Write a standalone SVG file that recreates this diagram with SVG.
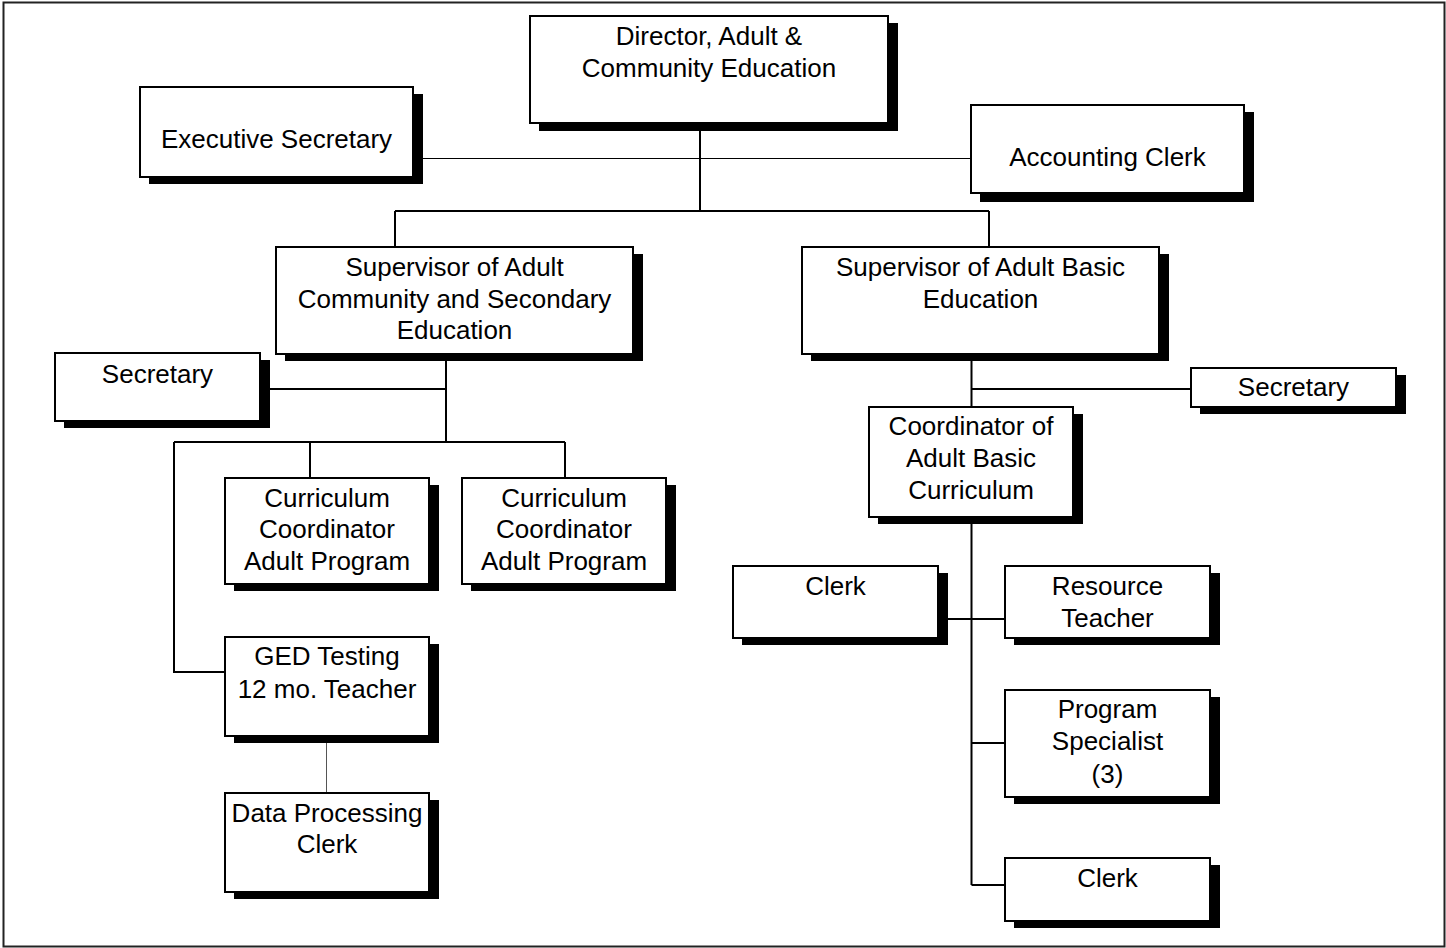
<svg xmlns="http://www.w3.org/2000/svg" width="1446" height="948" viewBox="0 0 1446 948">
  <style>
    .frame { fill: #fff; stroke: #222; stroke-width: 2; }
    .box { fill: #fff; stroke: #000; stroke-width: 2; }
    .shadow { fill: #000; }
    .lbl { font-family: "Liberation Sans", Arial, sans-serif; font-size: 26px; fill: #000; text-anchor: middle; }
    .conn { stroke: #000; stroke-width: 2; fill: none; }
    .thin { stroke: #000; stroke-width: 1; fill: none; }
    .thin-gray { stroke: #555; stroke-width: 1; fill: none; }
  </style>

  <!-- page frame -->
  <rect class="frame" x="3.5" y="2.5" width="1441" height="944"/>

  <!-- connectors -->
  <g id="connectors">
    <line class="thin" x1="420" y1="158.5" x2="971" y2="158.5"/>
    <path class="conn" d="M700 123 V211 M395 211 H989 M395 211 V247 M989 211 V247"/>
    <path class="conn" d="M446 354 V442 M269 389 H446 M174 442 H565 M310 442 V478 M565 442 V478 M174 442 V672 H225"/>
    <line class="thin-gray" x1="326.5" y1="743" x2="326.5" y2="795"/>
    <path class="conn" d="M971.5 354 V407 M971.5 389 H1191 M971.5 517 V885 M937 619 H1005 M971.5 743 H1005 M971.5 885 H1005"/>
  </g>

  <g id="director">
    <rect class="shadow" x="539" y="23" width="359" height="108"/>
    <rect class="box" x="530" y="16" width="358" height="107"/>
    <text class="lbl" x="709" y="45">Director, Adult &amp;</text>
    <text class="lbl" x="709" y="77">Community Education</text>
  </g>

  <g id="executive-secretary">
    <rect class="shadow" x="149" y="94" width="274" height="90"/>
    <rect class="box" x="140" y="87" width="273" height="90"/>
    <text class="lbl" x="276.5" y="148">Executive Secretary</text>
  </g>

  <g id="accounting-clerk">
    <rect class="shadow" x="980" y="112" width="274" height="90"/>
    <rect class="box" x="971" y="105" width="273" height="88"/>
    <text class="lbl" x="1107.5" y="166">Accounting Clerk</text>
  </g>

  <g id="supervisor-community-secondary">
    <rect class="shadow" x="285" y="254" width="358" height="107"/>
    <rect class="box" x="276" y="247" width="357" height="107"/>
    <text class="lbl" x="454.5" y="276">Supervisor of Adult</text>
    <text class="lbl" x="454.5" y="308">Community and Secondary</text>
    <text class="lbl" x="454.5" y="339">Education</text>
  </g>

  <g id="supervisor-basic">
    <rect class="shadow" x="811" y="254" width="358" height="107"/>
    <rect class="box" x="802" y="247" width="357" height="107"/>
    <text class="lbl" x="980.5" y="276">Supervisor of Adult Basic</text>
    <text class="lbl" x="980.5" y="308">Education</text>
  </g>

  <g id="secretary-left">
    <rect class="shadow" x="64" y="360" width="206" height="68"/>
    <rect class="box" x="55" y="353" width="205" height="68"/>
    <text class="lbl" x="157.5" y="383">Secretary</text>
  </g>

  <g id="curriculum-coordinator-1">
    <rect class="shadow" x="234" y="485" width="205" height="106"/>
    <rect class="box" x="225" y="478" width="204" height="106"/>
    <text class="lbl" x="327" y="507">Curriculum</text>
    <text class="lbl" x="327" y="538">Coordinator</text>
    <text class="lbl" x="327" y="570">Adult Program</text>
  </g>

  <g id="curriculum-coordinator-2">
    <rect class="shadow" x="471" y="485" width="205" height="106"/>
    <rect class="box" x="462" y="478" width="204" height="106"/>
    <text class="lbl" x="564" y="507">Curriculum</text>
    <text class="lbl" x="564" y="538">Coordinator</text>
    <text class="lbl" x="564" y="570">Adult Program</text>
  </g>

  <g id="ged-testing">
    <rect class="shadow" x="234" y="644" width="205" height="99"/>
    <rect class="box" x="225" y="637" width="204" height="99"/>
    <text class="lbl" x="327" y="665">GED Testing</text>
    <text class="lbl" x="327" y="698">12 mo. Teacher</text>
  </g>

  <g id="data-processing-clerk">
    <rect class="shadow" x="234" y="800" width="205" height="99"/>
    <rect class="box" x="225" y="793" width="204" height="99"/>
    <text class="lbl" x="327" y="822">Data Processing</text>
    <text class="lbl" x="327" y="853">Clerk</text>
  </g>

  <g id="secretary-right">
    <rect class="shadow" x="1200" y="375" width="206" height="39"/>
    <rect class="box" x="1191" y="368" width="205" height="39"/>
    <text class="lbl" x="1293.5" y="396">Secretary</text>
  </g>

  <g id="coordinator-basic-curriculum">
    <rect class="shadow" x="878" y="414" width="205" height="110"/>
    <rect class="box" x="869" y="407" width="204" height="110"/>
    <text class="lbl" x="971" y="435">Coordinator of</text>
    <text class="lbl" x="971" y="467">Adult Basic</text>
    <text class="lbl" x="971" y="499">Curriculum</text>
  </g>

  <g id="clerk-left">
    <rect class="shadow" x="742" y="573" width="206" height="72"/>
    <rect class="box" x="733" y="566" width="205" height="72"/>
    <text class="lbl" x="835.5" y="595">Clerk</text>
  </g>

  <g id="resource-teacher">
    <rect class="shadow" x="1014" y="573" width="206" height="72"/>
    <rect class="box" x="1005" y="566" width="205" height="72"/>
    <text class="lbl" x="1107.5" y="595">Resource</text>
    <text class="lbl" x="1107.5" y="627">Teacher</text>
  </g>

  <g id="program-specialist">
    <rect class="shadow" x="1014" y="697" width="206" height="107"/>
    <rect class="box" x="1005" y="690" width="205" height="107"/>
    <text class="lbl" x="1107.5" y="718">Program</text>
    <text class="lbl" x="1107.5" y="750">Specialist</text>
    <text class="lbl" x="1107.5" y="783">(3)</text>
  </g>

  <g id="clerk-right">
    <rect class="shadow" x="1014" y="865" width="206" height="63"/>
    <rect class="box" x="1005" y="858" width="205" height="63"/>
    <text class="lbl" x="1107.5" y="887">Clerk</text>
  </g>
</svg>
